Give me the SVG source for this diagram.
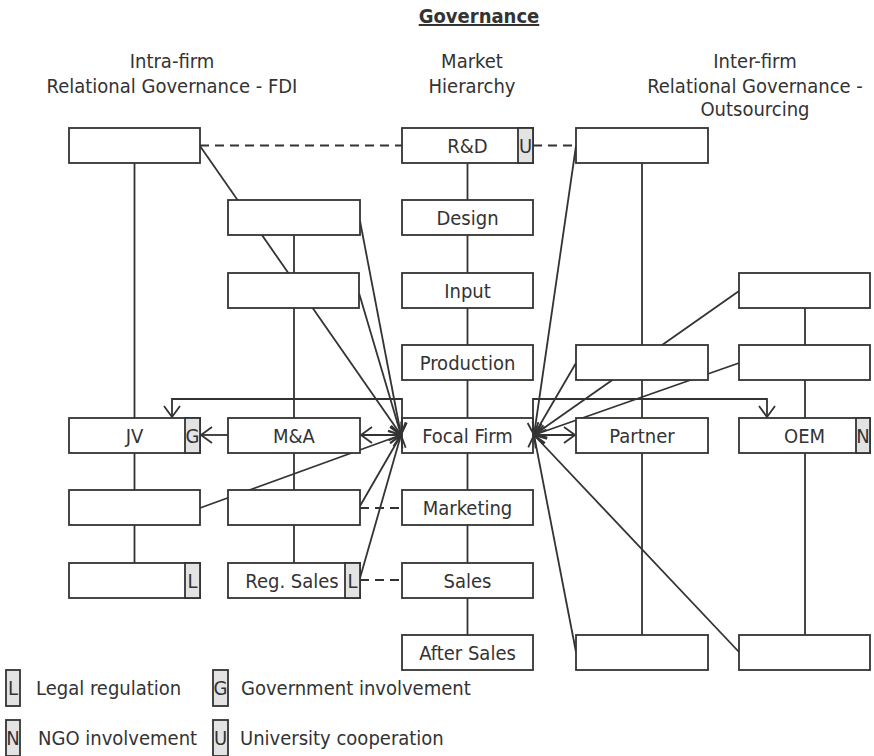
<svg xmlns="http://www.w3.org/2000/svg" width="874" height="756" viewBox="0 0 874 756">
  <defs>
    <style>
      text { font-family: "DejaVu Sans Condensed", "Liberation Sans", sans-serif; font-size: 20px; fill: #333; }
      .hdr { text-anchor: middle; }
      .ttl { text-anchor: middle; font-weight: bold; text-decoration: underline; }
      .lbl { text-anchor: middle; }
      .box { fill: #fff; stroke: #333; stroke-width: 1.8; }
      .cell { fill: #e3e3e3; stroke: #333; stroke-width: 1.8; }
      .ln { fill: none; stroke: #333; stroke-width: 1.8; }
      .dash { fill: none; stroke: #333; stroke-width: 1.8; stroke-dasharray: 9 6; }
      .arr { marker-end: url(#head); }
      .bi { marker-start: url(#head); marker-end: url(#head); }
    </style>
    <marker id="head" viewBox="-13 -10 15 20" refX="0" refY="0" markerWidth="15" markerHeight="20" markerUnits="userSpaceOnUse" orient="auto-start-reverse">
      <path d="M-11,-8 L0,0 L-11,8" fill="none" stroke="#333" stroke-width="1.8"/>
    </marker>
  </defs>

  <!-- column headings -->
  <g id="headings">
    <text class="ttl" x="479" y="23">Governance</text>
    <text class="hdr" x="172" y="68">Intra-firm</text>
    <text class="hdr" x="172" y="93">Relational Governance - FDI</text>
    <text class="hdr" x="472" y="68">Market</text>
    <text class="hdr" x="472" y="93">Hierarchy</text>
    <text class="hdr" x="755" y="68">Inter-firm</text>
    <text class="hdr" x="755" y="93">Relational Governance -</text>
    <text class="hdr" x="755" y="116">Outsourcing</text>
  </g>

  <!-- focal firm sits below the connectors so arrowheads show on its edges -->
  <g id="focal-firm">
    <rect class="box" x="402" y="418" width="131" height="35"/>
    <text class="lbl" x="467.5" y="443">Focal Firm</text>
  </g>

  <g id="connectors">
    <!-- value-chain spines -->
    <line class="ln" x1="134.5" y1="163" x2="134.5" y2="563"/>
    <line class="ln" x1="294" y1="235" x2="294" y2="563"/>
    <line class="ln" x1="467.5" y1="163" x2="467.5" y2="418"/>
    <line class="ln" x1="467.5" y1="453" x2="467.5" y2="635"/>
    <line class="ln" x1="642" y1="163" x2="642" y2="635"/>
    <line class="ln" x1="805" y1="308" x2="805" y2="635"/>

    <!-- dashed links -->
    <line class="dash" x1="200" y1="145.5" x2="402" y2="145.5"/>
    <line class="dash" x1="533" y1="145.5" x2="576" y2="145.5"/>
    <line class="dash" x1="360" y1="508" x2="402" y2="508"/>
    <line class="dash" x1="360" y1="580" x2="402" y2="580"/>

    <!-- links into the focal firm, left side -->
    <line class="ln arr" x1="200" y1="146" x2="401" y2="435"/>
    <line class="ln arr" x1="360" y1="221" x2="401" y2="435"/>
    <line class="ln arr" x1="359" y1="293" x2="401" y2="435"/>
    <line class="ln arr" x1="200" y1="508" x2="401" y2="435"/>
    <line class="ln arr" x1="360" y1="506" x2="401" y2="435"/>
    <line class="ln arr" x1="360" y1="578" x2="401" y2="435"/>
    <line class="ln bi" x1="361" y1="435" x2="401" y2="435"/>

    <!-- links into the focal firm, right side -->
    <line class="ln arr" x1="576" y1="146" x2="534" y2="435"/>
    <line class="ln arr" x1="739" y1="291" x2="534" y2="435"/>
    <line class="ln arr" x1="576" y1="363" x2="534" y2="435"/>
    <line class="ln arr" x1="739" y1="363" x2="534" y2="435"/>
    <line class="ln arr" x1="576" y1="652" x2="534" y2="435"/>
    <line class="ln arr" x1="739" y1="652" x2="534" y2="435"/>
    <line class="ln bi" x1="534" y1="435" x2="575" y2="435"/>

    <!-- elbow arrows to JV and OEM -->
    <path class="ln arr" d="M402,433 V399 H172 V417"/>
    <path class="ln arr" d="M533,433 V399 H767 V417"/>
    <!-- M&A to JV -->
    <line class="ln arr" x1="228" y1="435" x2="201" y2="435"/>
  </g>

  <!-- intra-firm column -->
  <g id="a-rd"><rect class="box" x="69" y="128" width="131" height="35"/></g>
  <g id="jv">
    <rect class="box" x="69" y="418" width="131" height="35"/>
    <rect class="cell" x="185" y="418" width="15" height="35"/>
    <text class="lbl" x="134.5" y="443">JV</text>
    <text class="lbl" x="192.5" y="443">G</text>
  </g>
  <g id="a-marketing"><rect class="box" x="69" y="490" width="131" height="35"/></g>
  <g id="a-sales">
    <rect class="box" x="69" y="563" width="131" height="35"/>
    <rect class="cell" x="185" y="563" width="15" height="35"/>
    <text class="lbl" x="192.5" y="588">L</text>
  </g>

  <g id="b-design"><rect class="box" x="228" y="200" width="132" height="35"/></g>
  <g id="b-input"><rect class="box" x="228" y="273" width="131" height="35"/></g>
  <g id="ma">
    <rect class="box" x="228" y="418" width="132" height="35"/>
    <text class="lbl" x="294" y="443">M&amp;A</text>
  </g>
  <g id="b-marketing"><rect class="box" x="228" y="490" width="132" height="35"/></g>
  <g id="reg-sales">
    <rect class="box" x="228" y="563" width="132" height="35"/>
    <rect class="cell" x="345" y="563" width="15" height="35"/>
    <text class="lbl" x="292" y="588">Reg. Sales</text>
    <text class="lbl" x="352.5" y="588">L</text>
  </g>

  <!-- market hierarchy column -->
  <g id="rd">
    <rect class="box" x="402" y="128" width="131" height="35"/>
    <rect class="cell" x="518" y="128" width="15" height="35"/>
    <text class="lbl" x="467.5" y="153">R&amp;D</text>
    <text class="lbl" x="525.5" y="153">U</text>
  </g>
  <g id="design"><rect class="box" x="402" y="200" width="131" height="35"/><text class="lbl" x="467.5" y="225">Design</text></g>
  <g id="input"><rect class="box" x="402" y="273" width="131" height="35"/><text class="lbl" x="467.5" y="298">Input</text></g>
  <g id="production"><rect class="box" x="402" y="345" width="131" height="35"/><text class="lbl" x="467.5" y="370">Production</text></g>
  <g id="marketing"><rect class="box" x="402" y="490" width="131" height="35"/><text class="lbl" x="467.5" y="515">Marketing</text></g>
  <g id="sales"><rect class="box" x="402" y="563" width="131" height="35"/><text class="lbl" x="467.5" y="588">Sales</text></g>
  <g id="after-sales"><rect class="box" x="402" y="635" width="131" height="35"/><text class="lbl" x="467.5" y="660">After Sales</text></g>

  <!-- inter-firm columns -->
  <g id="d-rd"><rect class="box" x="576" y="128" width="132" height="35"/></g>
  <g id="d-production"><rect class="box" x="576" y="345" width="132" height="35"/></g>
  <g id="partner">
    <rect class="box" x="576" y="418" width="132" height="35"/>
    <text class="lbl" x="642" y="443">Partner</text>
  </g>
  <g id="d-after-sales"><rect class="box" x="576" y="635" width="132" height="35"/></g>

  <g id="e-input"><rect class="box" x="739" y="273" width="131" height="35"/></g>
  <g id="e-production"><rect class="box" x="739" y="345" width="131" height="35"/></g>
  <g id="oem">
    <rect class="box" x="739" y="418" width="131" height="35"/>
    <rect class="cell" x="856" y="418" width="14" height="35"/>
    <text class="lbl" x="804.5" y="443">OEM</text>
    <text class="lbl" x="863" y="443">N</text>
  </g>
  <g id="e-after-sales"><rect class="box" x="739" y="635" width="131" height="35"/></g>

  <!-- legend -->
  <g id="legend">
    <rect class="cell" x="6" y="670" width="14" height="36"/>
    <text class="lbl" x="13" y="695">L</text>
    <text x="36" y="695">Legal regulation</text>
    <rect class="cell" x="213" y="670" width="15" height="36"/>
    <text class="lbl" x="220.5" y="695">G</text>
    <text x="241" y="695">Government involvement</text>
    <rect class="cell" x="6" y="720" width="14" height="36"/>
    <text class="lbl" x="13" y="745">N</text>
    <text x="38" y="745">NGO involvement</text>
    <rect class="cell" x="213" y="720" width="15" height="36"/>
    <text class="lbl" x="220.5" y="745">U</text>
    <text x="240" y="745">University cooperation</text>
  </g>
</svg>
